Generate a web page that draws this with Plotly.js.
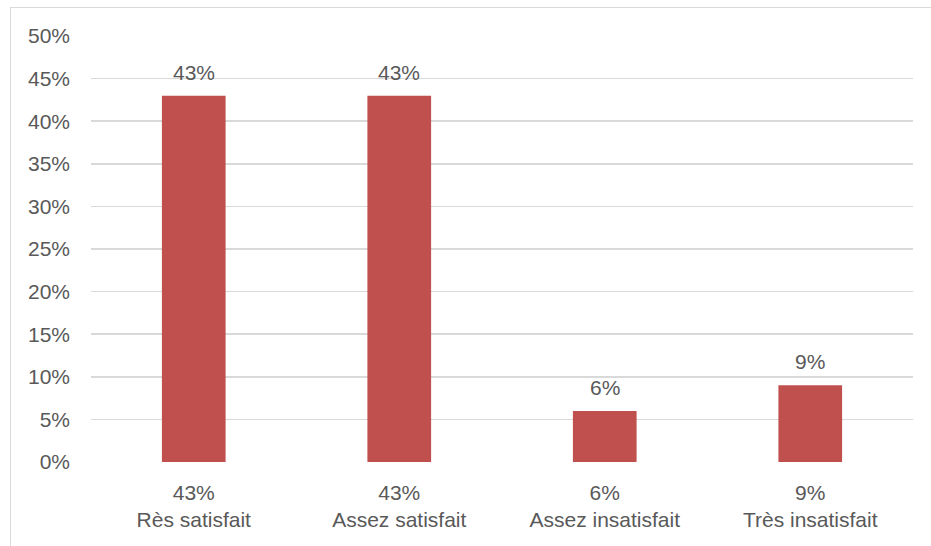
<!DOCTYPE html>
<html>
<head>
<meta charset="utf-8">
<script src="https://cdn.plot.ly/plotly-3.0.1.min.js"></script>
<style>
  html, body { margin: 0; padding: 0; background: #fff; }
  #wrap { position: relative; width: 931px; height: 546px; }
  #chart { width: 931px; height: 546px; }
  #frame { position: absolute; left: 10px; top: 7px; width: 940px; height: 560px;
           border-left: 1px solid #D9D9D9; border-top: 1px solid #D9D9D9; pointer-events: none; }
</style>
</head>
<body>
<div id="wrap">
  <div id="chart"></div>
  <div id="frame"></div>
</div>
<script>
const categories = ["Rès satisfait", "Assez satisfait", "Assez insatisfait", "Très insatisfait"];
const values = [43, 43, 6, 9];
const yTickVals = [0, 5, 10, 15, 20, 25, 30, 35, 40, 45, 50];

const valueLabels = values.map(v => v + "%");
const tickText = categories.map((c, i) => valueLabels[i] + "<br>" + c);

const font = { family: "Liberation Sans, Arial, sans-serif", size: 21, color: "#595959" };

const annotations = categories.map((c, i) => ({
  x: c, y: values[i], xref: "x", yref: "y",
  text: valueLabels[i], showarrow: false,
  yanchor: "bottom", yshift: 10,
  font: font
}));

Plotly.newPlot("chart", [{
  type: "bar",
  x: categories,
  y: values,
  marker: { color: "#C0504D" },
  width: 0.31,
  hoverinfo: "skip"
}], {
  width: 931,
  height: 546,
  margin: { l: 91, r: 18, t: 36, b: 84 },
  paper_bgcolor: "#fff",
  plot_bgcolor: "#fff",
  font: font,
  showlegend: false,
  annotations: annotations,
  xaxis: {
    tickmode: "array",
    tickvals: categories,
    ticktext: tickText,
    showgrid: false,
    zeroline: false,
    showline: false,
    ticks: "",
    ticklabelstandoff: 16,
    tickfont: font,
    fixedrange: true
  },
  yaxis: {
    range: [0, 50],
    tickmode: "array",
    tickvals: yTickVals,
    ticktext: yTickVals.map(v => v + "%"),
    showgrid: true,
    gridcolor: "#D9D9D9",
    gridwidth: 1.5,
    zeroline: false,
    showline: false,
    ticks: "",
    ticklabelstandoff: 20,
    tickfont: font,
    fixedrange: true
  }
}, { displayModeBar: false, staticPlot: true });
</script>
</body>
</html>
